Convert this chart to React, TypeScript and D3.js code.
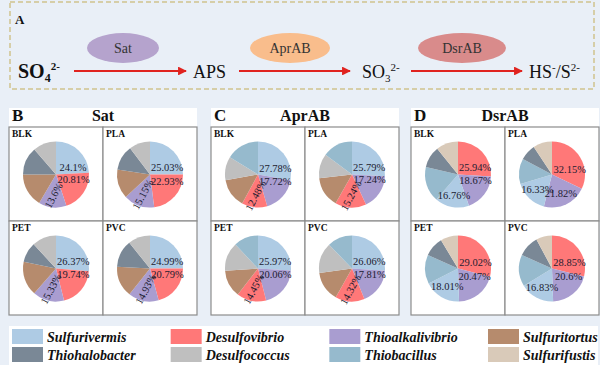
import * as d3 from "d3";
import React from "react";

// genera and their colours
const genera = ["Sulfurivermis", "Desulfovibrio", "Thioalkalivibrio", "Sulfuritortus",
  "Thiohalobacter", "Desulfococcus", "Thiobacillus", "Sulfurifustis"];
const generaColors = ["#aecbe4", "#ff7878", "#a99dd0", "#b68b6d",
  "#7a8896", "#bfbfbf", "#96bacd", "#d9cab9"];

const samples = ["BLK", "PLA", "PET", "PVC"];

// slice order for each gene
const satOrder = ["Sulfurivermis", "Desulfovibrio", "Thioalkalivibrio", "Sulfuritortus", "Thiohalobacter", "Desulfococcus"];
const aprOrder = ["Sulfurivermis", "Thioalkalivibrio", "Desulfovibrio", "Sulfuritortus", "Desulfococcus", "Thiobacillus"];
const dsrOrder = ["Desulfovibrio", "Thioalkalivibrio", "Sulfurivermis", "Thiobacillus", "Thiohalobacter", "Sulfurifustis"];

// percentages (BLK, PLA, PET, PVC)
const satValues = [
  [24.1, 20.81, 13.6, 16.5, 13.6, 11.39],
  [25.03, 22.93, 15.15, 14.3, 12.3, 10.29],
  [26.37, 19.74, 15.33, 16.8, 9.9, 11.86],
  [24.99, 20.79, 14.93, 15.1, 13.4, 10.79],
];
const aprValues = [
  [27.78, 17.72, 12.48, 14.2, 11.6, 16.22],
  [25.79, 17.24, 15.24, 14.9, 12.0, 14.83],
  [25.97, 20.06, 14.45, 13.4, 14.1, 12.02],
  [26.06, 17.81, 14.32, 14.6, 15.0, 12.21],
];
const dsrValues = [
  [25.94, 18.67, 16.76, 17.3, 10.5, 10.83],
  [32.15, 21.82, 16.33, 12.5, 7.9, 9.3],
  [29.02, 20.47, 18.01, 14.2, 9.7, 8.6],
  [28.85, 20.6, 16.83, 15.4, 10.5, 7.82],
];

const panelLetters = ["B", "C", "D"];
const panelTitles = ["Sat", "AprAB", "DsrAB"];
const panelOrders = [satOrder, aprOrder, dsrOrder];
const panelValues = [satValues, aprValues, dsrValues];

const W = 600;
const H = 365;
const serif = { fontFamily: "'Liberation Serif', 'Times New Roman', serif" };
const color = d3.scaleOrdinal<string, string>().domain(genera).range(generaColors);

const panelLeft = [9, 211, 411];
const panelW = 188;
const gridTop = 127;
const cellH = 94;
const R = 33;

const pie = d3.pie<number>().sort(null).value(d => d);
const arc = d3.arc<d3.PieArcDatum<number>>().innerRadius(0).outerRadius(R);

function PieCell({ x, y, w, label, order, values }: any) {
  const cx = x + w / 2;
  const cy = y + 47.5;
  const arcs = pie(values);
  return (
    <g>
      <rect x={x} y={y} width={w} height={cellH} fill="#fff" stroke="#8c8c8c" strokeWidth={1.2} />
      <text x={x + 3} y={y + 10} fontWeight="bold" fontSize={9.5} fill="#111">{label}</text>
      <g transform={`translate(${cx},${cy})`}>
        {arcs.map((a, i) => (
          <path key={i} d={arc(a) || ""} fill={color(order[i])} />
        ))}
        {arcs.slice(0, 3).map((a, i) => {
          const mid = (a.startAngle + a.endAngle) / 2;
          let ang = mid;
          let r = R * 0.64;
          if (i < 2 && mid <= (150 * Math.PI) / 180) {
            ang = (mid + Math.PI / 2) / 2;
            r = R * 0.56;
          }
          const px = Math.sin(ang) * r;
          const py = -Math.cos(ang) * r;
          const rot = i === 2 && a.data < 16 ? -62 : 0;
          return (
            <text key={i} x={0} y={0} transform={`translate(${px},${py}) rotate(${rot})`}
              textAnchor="middle" dominantBaseline="central"
              fontSize={10.5} fill="#1c1c30">{a.data}%</text>
          );
        })}
      </g>
    </g>
  );
}

export default function App() {
  const arrowY = 71;
  const ellipses = [
    { cx: 123, rx: 36, fill: "#b5a3cd", text: "Sat" },
    { cx: 290, rx: 40, fill: "#f9bd8c", text: "AprAB" },
    { cx: 462, rx: 44, fill: "#d98b8b", text: "DsrAB" },
  ];
  const arrows = [[74, 186], [239, 350], [411, 522]];
  const legendX = d3.scaleLinear().domain([0, 3]).range([12, 488]);
  return (
    <svg width={W} height={H} style={{ position: "absolute", left: 0, top: 0, ...serif }}>
      <defs>
        <marker id="ah" viewBox="0 0 10 10" refX="9" refY="5" markerWidth="4" markerHeight="4" orient="auto">
          <path d="M0,0 L10,5 L0,10 z" fill="#e0231f" />
        </marker>
      </defs>
      <rect x={0} y={0} width={W} height={H} fill="#e9eff7" />
      {/* panel A */}
      <rect x={10} y={2} width={584} height={87} fill="#e9eff7" stroke="#cfc48e" strokeWidth={1.5} strokeDasharray="5,3" />
      <text x={15} y={24} fontWeight="bold" fontSize={13} fill="#111">A</text>
      {ellipses.map((e, i) => (
        <g key={i}>
          <ellipse cx={e.cx} cy={48} rx={e.rx} ry={15} fill={e.fill} />
          <text x={e.cx} y={52.5} textAnchor="middle" fontSize={14} fill="#333">{e.text}</text>
        </g>
      ))}
      {arrows.map((a, i) => (
        <line key={i} x1={a[0]} x2={a[1]} y1={arrowY} y2={arrowY} stroke="#e0231f" strokeWidth={2.2} markerEnd="url(#ah)" />
      ))}
      <text x={18} y={78} fontWeight="bold" fontSize={20} fill="#111">
        SO<tspan fontSize={12} dy={4}>4</tspan><tspan fontSize={11} dy={-12}>2-</tspan>
      </text>
      <text x={193} y={78} fontSize={18} fill="#111">APS</text>
      <text x={362} y={78} fontSize={18} fill="#111">
        SO<tspan fontSize={11} dy={4}>3</tspan><tspan fontSize={11} dy={-11}>2-</tspan>
      </text>
      <text x={529} y={78} fontSize={18} fill="#111">
        HS<tspan fontSize={11} dy={-7}>-</tspan><tspan dy={7}>/S</tspan><tspan fontSize={11} dy={-7}>2-</tspan>
      </text>

      {/* panels B, C, D */}
      {panelLetters.map((L, p) => {
        const x0 = panelLeft[p];
        const cw = panelW / 2;
        return (
          <g key={L}>
            <rect x={x0} y={108} width={panelW} height={207} fill="#fff" />
            <text x={x0 + 3} y={121} fontWeight="bold" fontSize={17} fill="#111">{L}</text>
            <text x={x0 + panelW / 2} y={121} textAnchor="middle" fontWeight="bold" fontSize={16} fill="#111">{panelTitles[p]}</text>
            {samples.map((s, k) => (
              <PieCell key={s} x={x0 + (k % 2) * cw} y={gridTop + Math.floor(k / 2) * cellH} w={cw}
                label={s} order={panelOrders[p]} values={panelValues[p][k]} />
            ))}
          </g>
        );
      })}

      {/* legend */}
      <rect x={9} y={326} width={589} height={39} fill="#fff" />
      {genera.map((g, i) => {
        const col = i % 4;
        const row = Math.floor(i / 4);
        const lx = legendX(col);
        const ly = 329 + row * 18;
        return (
          <g key={g}>
            <rect x={lx} y={ly} width={31} height={15} fill={color(g)} />
            <text x={lx + 35} y={ly + 12.5} fontWeight="bold" fontStyle="italic" fontSize={14} fill="#111">{g}</text>
          </g>
        );
      })}
    </svg>
  );
}
